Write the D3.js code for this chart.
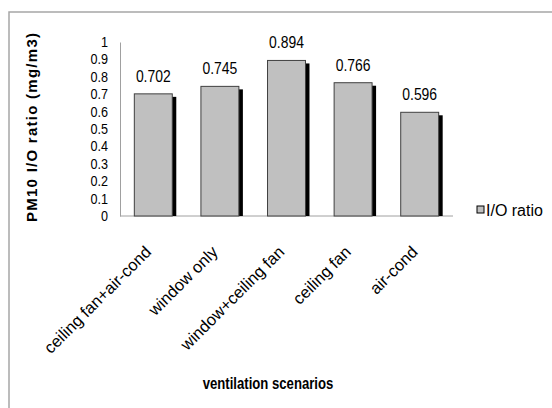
<!DOCTYPE html>
<html>
<head>
<meta charset="utf-8">
<script src="https://cdn.jsdelivr.net/npm/d3@7"></script>
<style>
  html, body { margin: 0; padding: 0; background: #fff; }
  svg { display: block; }
  text { font-family: "Liberation Sans", Arial, sans-serif; fill: #000; }
</style>
</head>
<body>
<svg id="chart" width="552" height="408"></svg>
<script>
// PM10 indoor/outdoor ratio per ventilation scenario
const categories = ["ceiling fan+air-cond", "window only", "window+ceiling fan", "ceiling fan", "air-cond"];
const ioRatio = [0.702, 0.745, 0.894, 0.766, 0.596];
const yTicks = [0, 0.1, 0.2, 0.3, 0.4, 0.5, 0.6, 0.7, 0.8, 0.9, 1];
const seriesName = "I/O ratio";
const yTitle = "PM10 I/O ratio (mg/m3)";
const xTitle = "ventilation scenarios";

const svg = d3.select("#chart");

// narrow a text run to a fraction of its natural width (condensed look)
function squeeze(sel, factor) {
  sel.each(function () {
    const w = this.getComputedTextLength();
    d3.select(this).attr("textLength", w * factor).attr("lengthAdjust", "spacingAndGlyphs");
  });
}

// outer frame (runs past the right and bottom edges)
svg.append("rect")
  .attr("x", 9).attr("y", 12)
  .attr("width", 560).attr("height", 420)
  .attr("fill", "none").attr("stroke", "#a6a6a6").attr("stroke-width", 1.5);

const plot = { left: 120, right: 453, top: 42, bottom: 216 };

const x = d3.scaleBand().domain(categories)
  .range([plot.left, plot.right]).paddingInner(0.43).paddingOuter(0.215);
const y = d3.scaleLinear().domain([0, 1]).range([plot.bottom, plot.top]);

// y axis: labels only, with a plain vertical rule
const yAxis = d3.axisLeft(y).tickValues(yTicks).tickFormat(d3.format("~g")).tickSize(0).tickPadding(12);
const gy = svg.append("g").attr("transform", `translate(${plot.left},0)`).call(yAxis);
gy.select(".domain").attr("stroke", "#a0a0a0");
gy.selectAll("text").attr("font-size", 14).attr("font-family", null).call(squeeze, 0.9);

// baseline
svg.append("line")
  .attr("x1", plot.left).attr("x2", plot.right)
  .attr("y1", y(0)).attr("y2", y(0))
  .attr("stroke", "#a0a0a0");

// bar shadows, then bars
const bars = svg.append("g");
bars.selectAll("rect.shadow").data(ioRatio).join("rect")
  .attr("class", "shadow")
  .attr("x", (d, i) => x(categories[i]) + 4)
  .attr("y", d => y(d) + 3)
  .attr("width", x.bandwidth())
  .attr("height", d => y(0) - y(d) - 3)
  .attr("fill", "#000");
bars.selectAll("rect.bar").data(ioRatio).join("rect")
  .attr("class", "bar")
  .attr("x", (d, i) => x(categories[i]))
  .attr("y", d => y(d))
  .attr("width", x.bandwidth())
  .attr("height", d => y(0) - y(d))
  .attr("fill", "#c0c0c0").attr("stroke", "#404040").attr("stroke-width", 1);

// value labels
svg.append("g").selectAll("text").data(ioRatio).join("text")
  .attr("x", (d, i) => x(categories[i]) + x.bandwidth() / 2)
  .attr("y", d => y(d) - 12)
  .attr("text-anchor", "middle")
  .attr("font-size", 16)
  .text(d => d3.format(".3f")(d))
  .call(squeeze, 0.87);

// rotated category labels
svg.append("g").selectAll("text").data(categories).join("text")
  .attr("transform", d => `translate(${x(d) + x.bandwidth() / 2 - 1},253) rotate(-45)`)
  .attr("text-anchor", "end")
  .attr("font-size", 16.5)
  .text(d => d);

// axis titles
svg.append("text")
  .attr("transform", "translate(37,127.5) rotate(-90)")
  .attr("text-anchor", "middle")
  .attr("font-size", 15).attr("font-weight", "bold")
  .attr("textLength", 189).attr("lengthAdjust", "spacing")
  .text(yTitle);

svg.append("text")
  .attr("x", 268).attr("y", 389)
  .attr("text-anchor", "middle")
  .attr("font-size", 16).attr("font-weight", "bold")
  .text(xTitle)
  .call(squeeze, 0.82);

// legend
const legend = svg.append("g").attr("transform", "translate(477,206)");
legend.append("rect")
  .attr("width", 7).attr("height", 7)
  .attr("fill", "#c0c0c0").attr("stroke", "#000").attr("stroke-width", 1);
legend.append("text")
  .attr("x", 9).attr("y", 9.5)
  .attr("font-size", 16)
  .text(seriesName);
</script>
</body>
</html>
